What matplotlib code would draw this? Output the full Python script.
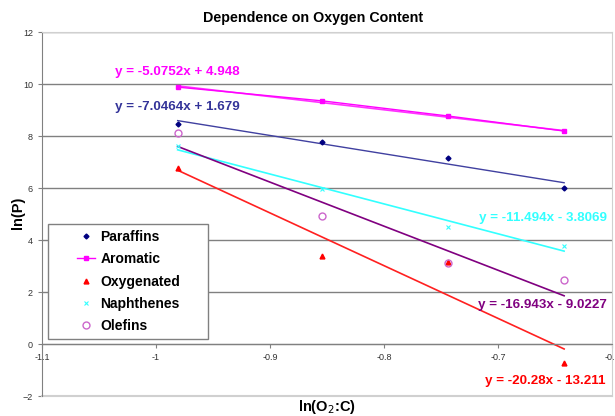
import matplotlib
matplotlib.use("Agg")
import matplotlib.pyplot as plt
from matplotlib.patches import Rectangle
import numpy as np

plt.rcParams['font.family'] = ['Liberation Sans', 'DejaVu Sans']

x_vals = [-0.981, -0.854, -0.744, -0.642]
paraffins = [8.46, 7.77, 7.15, 6.00]
aromatic = [9.88, 9.35, 8.77, 8.19]
oxygenated = [6.77, 3.38, 3.15, -0.73]
naphthenes = [7.60, 5.96, 4.50, 3.77]
olefins = [8.12, 4.92, 3.10, 2.46]

# trendline coefficients (slope, intercept) as shown on the chart
fits = {
    'Paraffins': (-7.0464, 1.679),
    'Aromatic': (-5.0752, 4.948),
    'Oxygenated': (-20.28, -13.211),
    'Naphthenes': (-11.494, -3.8069),
    'Olefins': (-16.943, -9.0227),
}
eq_labels = {
    'Aromatic': "y = -5.0752x + 4.948",
    'Paraffins': "y = -7.0464x + 1.679",
    'Naphthenes': "y = -11.494x - 3.8069",
    'Olefins': "y = -16.943x - 9.0227",
    'Oxygenated': "y = -20.28x - 13.211",
}

fig = plt.figure(figsize=(6.15, 4.16), dpi=100)
ax = fig.add_axes([42/615, 20/416, 570/615, 364/416])
ax.set_xlim(-1.1, -0.6)
ax.set_ylim(-2, 12)
ax.set_yticks(np.arange(-2, 13, 2))
ax.set_xticks([-1.1, -1.0, -0.9, -0.8, -0.7, -0.6])
ax.set_xticklabels(['-1.1', '-1', '-0.9', '-0.8', '-0.7', '-0.6'])
ax.yaxis.grid(True, color='#808080', linewidth=1.0)
ax.set_axisbelow(True)

for s in ['top', 'right']:
    ax.spines[s].set_color('#d0d0d0')
ax.spines['left'].set_color('#808080')
ax.spines['bottom'].set_position(('data', 0))
ax.spines['bottom'].set_color('#808080')
ax.tick_params(axis='both', labelsize=6.5, colors='#808080', labelcolor='#333333', length=3)

# bottom border line of plot area
ax.axhline(-2, color='#d0d0d0', linewidth=1.5, clip_on=False)

xs = np.array(x_vals)
xl = np.array([xs[0], xs[-1]])

def trend(name):
    m, b = fits[name]
    return m * xl + b

ax.plot(xl, trend('Paraffins'), color='#4040a0', lw=1.0)
ax.plot(xl, trend('Aromatic'), color='#ff33ff', lw=1.2)
ax.plot(xl, trend('Naphthenes'), color='#33ffff', lw=1.2)
ax.plot(xl, trend('Olefins'), color='#800080', lw=1.2)
ax.plot(xl, trend('Oxygenated'), color='#ff2020', lw=1.2)

ax.plot(xs, paraffins, linestyle='none', marker='D', markersize=2.5, color='#000080', label='Paraffins')
ax.plot(xs, aromatic, linestyle='-', lw=1.0, marker='s', markersize=2.8, color='#ff00ff', label='Aromatic')
ax.plot(xs, oxygenated, linestyle='none', marker='^', markersize=3.5, color='#ff0000', label='Oxygenated')
ax.plot(xs, naphthenes, linestyle='none', marker='x', markersize=3, mew=0.8, color='#33ffff', label='Naphthenes')
ax.plot(xs, olefins, linestyle='none', marker='o', markersize=5, mfc='none', mec='#cc66cc', label='Olefins')

fs = 9.6
ax.text(-1.036, 10.46, eq_labels['Aromatic'], color='#ff00ff', fontsize=fs, fontweight='bold', va='center', ha='left')
ax.text(-1.036, 9.12, eq_labels['Paraffins'], color='#333399', fontsize=fs, fontweight='bold', va='center', ha='left')
ax.text(-0.6045, 4.85, eq_labels['Naphthenes'], color='#33ffff', fontsize=fs, fontweight='bold', va='center', ha='right')
ax.text(-0.6045, 1.50, eq_labels['Olefins'], color='#800080', fontsize=fs, fontweight='bold', va='center', ha='right')
ax.text(-0.6055, -1.42, eq_labels['Oxygenated'], color='#ff0000', fontsize=fs, fontweight='bold', va='center', ha='right')

# legend box drawn separately for exact size
box = Rectangle((6/570, 57/364), 160/570, 115/364, transform=ax.transAxes,
                facecolor='white', edgecolor='#808080', linewidth=1.0, zorder=4.9)
ax.add_patch(box)
leg = ax.legend(loc='upper left', bbox_to_anchor=(35/570, (396 - 230)/364), prop={'weight': 'bold', 'size': 10},
                frameon=False, borderaxespad=0, borderpad=0,
                handlelength=1.3, labelspacing=0.6, handletextpad=0.38)
leg.set_zorder(5)

fig.text(313/615, 1 - 18/416, 'Dependence on Oxygen Content', ha='center', va='center', fontsize=10.3, fontweight='bold')
fig.text(18/615, 1 - 213/416, 'ln(P)', ha='center', va='center', rotation=90, fontsize=10.5, fontweight='bold')
fig.text(327/615, 1 - 407/416, 'ln(O$_2$:C)', ha='center', va='center', fontsize=10.5, fontweight='bold')

fig.savefig('out.png', dpi=100)
